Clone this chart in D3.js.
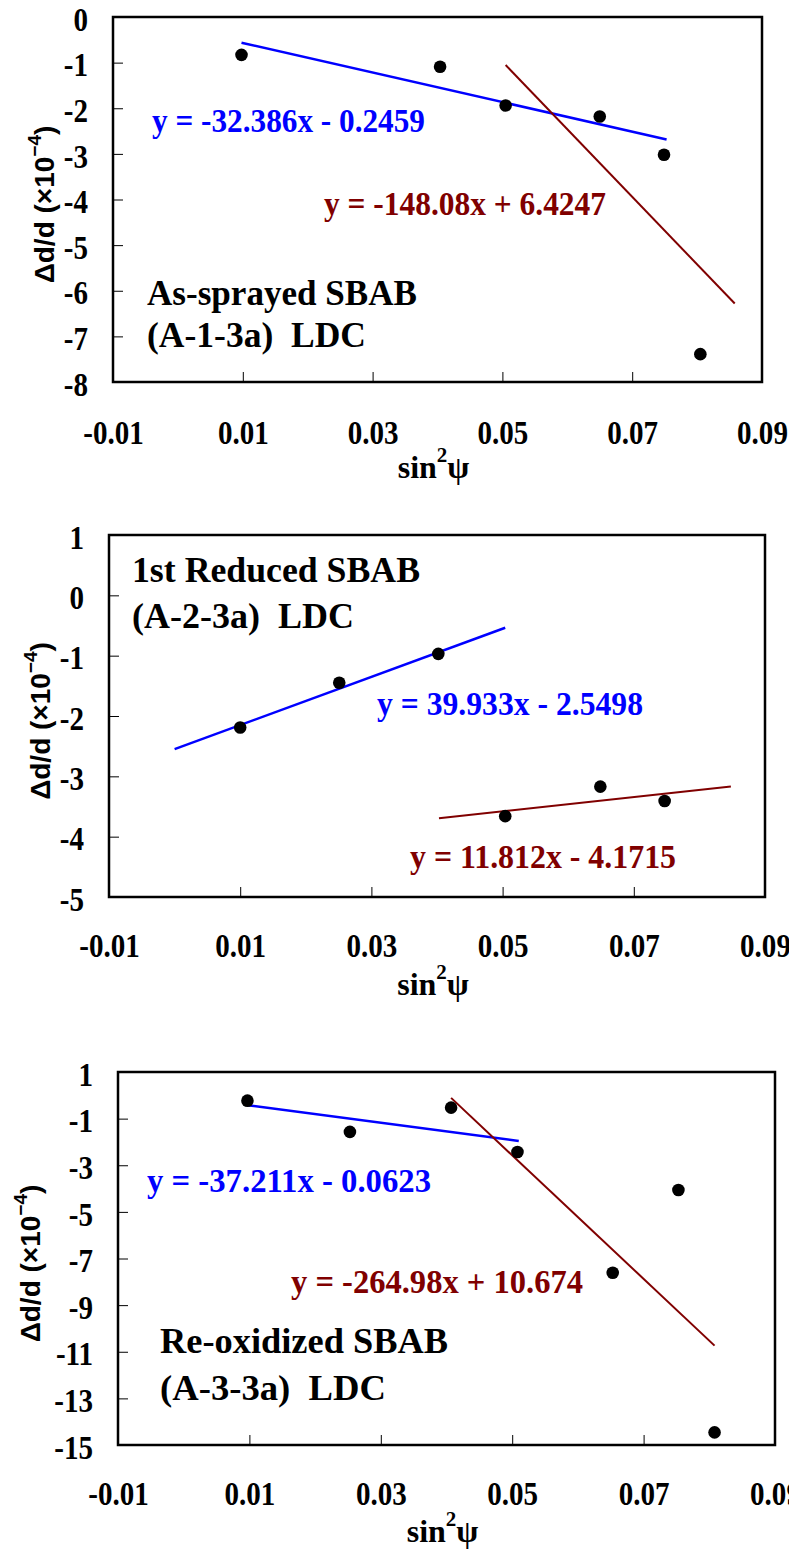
<!DOCTYPE html>
<html>
<head>
<meta charset="utf-8">
<script src="https://cdn.jsdelivr.net/npm/d3@7"></script>
<style>
  html, body { margin: 0; padding: 0; background: #fff; }
  svg { display: block; }
  text { white-space: pre; }
</style>
</head>
<body>
<div id="chart"></div>
<script>
// 値: 目盛り
var xTicks = [-0.01, 0.01, 0.03, 0.05, 0.07, 0.09];
var xTickLabels = ["-0.01", "0.01", "0.03", "0.05", "0.07", "0.09"];

var p1YTicks = [0, -1, -2, -3, -4, -5, -6, -7, -8];
var p1YLabels = ["0", "-1", "-2", "-3", "-4", "-5", "-6", "-7", "-8"];
var p2YTicks = [1, 0, -1, -2, -3, -4, -5];
var p2YLabels = ["1", "0", "-1", "-2", "-3", "-4", "-5"];
var p3YTicks = [1, -1, -3, -5, -7, -9, -11, -13, -15];
var p3YLabels = ["1", "-1", "-3", "-5", "-7", "-9", "-11", "-13", "-15"];

// 値: 測定点 (sin^2 psi, Δd/d x1e-4)
var p1X = [0.0098, 0.0404, 0.0505, 0.0650, 0.0749, 0.0805];
var p1Val = [-0.83, -1.09, -1.94, -2.18, -3.02, -7.39];
var p2X = [0.0100, 0.0251, 0.0402, 0.0504, 0.0649, 0.0747];
var p2Val = [-2.19, -1.45, -0.97, -3.66, -3.17, -3.41];
var p3X = [0.0097, 0.0253, 0.0407, 0.0508, 0.0653, 0.0753, 0.0808];
var p3Val = [-0.23, -1.57, -0.53, -2.43, -7.61, -4.06, -14.46];

// 近似直線: [傾き, 切片, x始点, x終点]
var p1BlueFit = [-32.386, -0.2459, 0.0098, 0.0753];
var p1RedFit = [-148.08, 6.4247, 0.0505, 0.0858];
var p2BlueFit = [39.933, -2.5498, 0.0000, 0.0504];
var p2RedFit = [11.812, -4.1715, 0.0403, 0.0848];
var p3BlueFit = [-37.211, -0.0623, 0.0097, 0.0510];
var p3RedFit = [-264.98, 10.674, 0.0407, 0.0808];

var p1Eq = ["y = -32.386x - 0.2459", "y = -148.08x + 6.4247"];
var p2Eq = ["y = 39.933x - 2.5498", "y = 11.812x - 4.1715"];
var p3Eq = ["y = -37.211x - 0.0623", "y = -264.98x + 10.674"];
var p1Name = ["As-sprayed SBAB", "(A-1-3a)  LDC"];
var p2Name = ["1st Reduced SBAB", "(A-2-3a)  LDC"];
var p3Name = ["Re-oxidized SBAB", "(A-3-3a)  LDC"];

var BLUE = "#0000ff", RED = "#800000";
var serif = "'Liberation Serif', 'Times New Roman', serif";
var sans = "'Liberation Sans', Arial, sans-serif";

var svg = d3.select("#chart").append("svg")
  .attr("width", 789).attr("height", 1551);

// パネル配置
var panels = [
  { box: [113, 17, 762, 382], yDom: [0, -8], yT: p1YTicks, yL: p1YLabels,
    xs: p1X, ys: p1Val, blue: p1BlueFit, red: p1RedFit, eq: p1Eq, name: p1Name,
    xlabY: 444, xtitY: 478, ytitX: 44,
    eqPos: [[152, 132, 273], [324, 215, 282]],
    namePos: [[147, 305, 270], [147, 347, 219]] },
  { box: [109, 535, 765, 897], yDom: [1, -5], yT: p2YTicks, yL: p2YLabels,
    xs: p2X, ys: p2Val, blue: p2BlueFit, red: p2RedFit, eq: p2Eq, name: p2Name,
    xlabY: 957, xtitY: 995, ytitX: 40,
    eqPos: [[377, 715, 266], [410, 868, 266]],
    namePos: [[132, 582, 288], [132, 628, 222]] },
  { box: [118, 1072, 775, 1445], yDom: [1, -15], yT: p3YTicks, yL: p3YLabels,
    xs: p3X, ys: p3Val, blue: p3BlueFit, red: p3RedFit, eq: p3Eq, name: p3Name,
    xlabY: 1505, xtitY: 1542, ytitX: 30,
    eqPos: [[147, 1192, 284], [291, 1293, 292]],
    namePos: [[160, 1353, 288], [160, 1400, 226]] }
];

// 横方向に少し詰める(元図の書体に合わせる)
function squeeze(sel, k){
  sel.each(function(){
    var w = this.getComputedTextLength();
    d3.select(this).attr("textLength", w * k).attr("lengthAdjust", "spacingAndGlyphs");
  });
}

panels.forEach(function(p){
  var L = p.box[0], T = p.box[1], R = p.box[2], B = p.box[3];
  var x = d3.scaleLinear().domain([-0.01, 0.09]).range([L, R]);
  var y = d3.scaleLinear().domain(p.yDom).range([T, B]);
  var g = svg.append("g");

  // 軸 (内向き目盛り)
  var xa = g.append("g").attr("transform", "translate(0," + B + ")")
    .call(d3.axisBottom(x).tickValues(xTicks).tickSize(-10)
      .tickFormat(function(d, i){ return xTickLabels[i]; }));
  xa.select(".domain").remove();
  xa.selectAll("line").attr("stroke", "#000").attr("stroke-width", 1);
  xa.selectAll("text").attr("y", p.xlabY - B).attr("dy", null)
    .attr("font-family", serif).attr("font-weight", "bold").attr("font-size", 33)
    .attr("fill", "#000").call(squeeze, 0.88);

  var ya = g.append("g").attr("transform", "translate(" + L + ",0)")
    .call(d3.axisLeft(y).tickValues(p.yT).tickSize(-10).tickPadding(25)
      .tickFormat(function(d, i){ return p.yL[i]; }));
  ya.select(".domain").remove();
  ya.selectAll("line").attr("stroke", "#000").attr("stroke-width", 1);
  ya.selectAll("text").attr("dy", "0.4em")
    .attr("font-family", serif).attr("font-weight", "bold").attr("font-size", 33)
    .attr("fill", "#000").call(squeeze, 0.88);

  // 枠
  g.append("rect").attr("x", L).attr("y", T).attr("width", R - L).attr("height", B - T)
    .attr("fill", "none").attr("stroke", "#000").attr("stroke-width", 2.5);

  // 近似直線
  [[p.blue, BLUE, 2.5], [p.red, RED, 2]].forEach(function(f){
    var fit = f[0];
    var line = d3.line().x(function(d){ return x(d); })
      .y(function(d){ return y(fit[0] * d + fit[1]); });
    g.append("path").datum([fit[2], fit[3]]).attr("d", line)
      .attr("fill", "none").attr("stroke", f[1]).attr("stroke-width", f[2]);
  });

  // 測定点
  g.selectAll("circle.pt").data(p.xs).enter().append("circle")
    .attr("class", "pt")
    .attr("cx", function(d){ return x(d); })
    .attr("cy", function(d, i){ return y(p.ys[i]); })
    .attr("r", 6.3).attr("fill", "#000");

  // 式
  p.eq.forEach(function(s, i){
    var pos = p.eqPos[i];
    g.append("text").attr("x", pos[0]).attr("y", pos[1])
      .attr("textLength", pos[2]).attr("lengthAdjust", "spacingAndGlyphs")
      .attr("font-family", serif).attr("font-weight", "bold").attr("font-size", 34)
      .attr("fill", i == 0 ? BLUE : RED).text(s);
  });

  // 試料名
  p.name.forEach(function(s, i){
    var pos = p.namePos[i];
    g.append("text").attr("x", pos[0]).attr("y", pos[1])
      .attr("textLength", pos[2]).attr("lengthAdjust", "spacingAndGlyphs")
      .attr("font-family", serif).attr("font-weight", "bold").attr("font-size", 35)
      .attr("fill", "#000").text(s);
  });

  // 軸タイトル
  var xt = g.append("text").attr("x", (L + R) / 2 - 4).attr("y", p.xtitY)
    .attr("text-anchor", "middle").attr("font-family", serif)
    .attr("font-weight", "bold").attr("font-size", 32).attr("fill", "#000");
  xt.append("tspan").text("sin");
  xt.append("tspan").attr("dy", -16).attr("font-size", 21).text("2");
  xt.append("tspan").attr("dy", 16).text("ψ");

  var yt = g.append("text")
    .attr("transform", "translate(" + p.ytitX + "," + ((T + B) / 2 + 5) + ") rotate(-90)")
    .attr("text-anchor", "middle").attr("dominant-baseline", "central")
    .attr("font-family", sans).attr("font-weight", "bold").attr("font-size", 28)
    .attr("fill", "#000");
  yt.append("tspan").text("Δd/d (×10");
  yt.append("tspan").attr("dy", -10).attr("font-size", 19).text("−4");
  yt.append("tspan").attr("dy", 10).text(")");
});
</script>
</body>
</html>
